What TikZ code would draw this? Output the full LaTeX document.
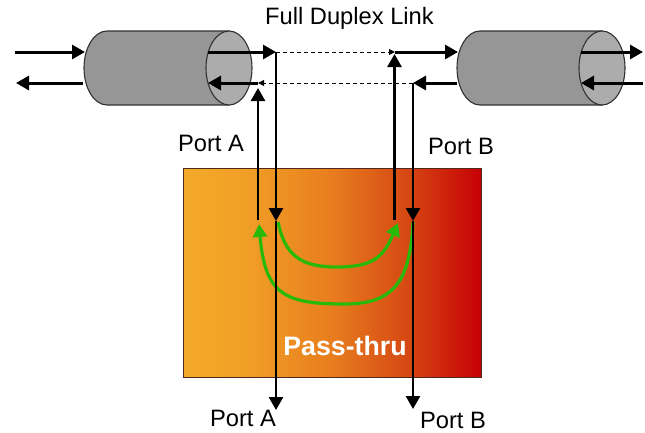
\documentclass[tikz,border=0pt]{standalone}
\usepackage{fontspec}
\setmainfont{Liberation Sans}
\usetikzlibrary{arrows.meta}
\definecolor{bodygray}{RGB}{150,150,150}
\definecolor{capgray}{RGB}{172,172,172}
\definecolor{edgegray}{RGB}{50,50,50}
\definecolor{flowgreen}{RGB}{40,185,10}
\definecolor{boxedge}{RGB}{80,40,30}
\definecolor{gradA}{RGB}{243,170,40}
\definecolor{gradB}{RGB}{241,160,38}
\definecolor{gradC}{RGB}{232,125,30}
\definecolor{gradD}{RGB}{215,75,20}
\definecolor{gradE}{RGB}{198,0,5}
\pgfdeclarehorizontalshading{passgrad}{100bp}{
  color(0bp)=(gradA);
  color(25bp)=(gradA);
  color(35bp)=(gradB);
  color(50bp)=(gradC);
  color(62bp)=(gradD);
  color(75bp)=(gradE);
  color(100bp)=(gradE)}
\tikzset{
  x=1pt,y=-1pt,
  cylbody/.style={draw=edgegray,line width=1.1pt,fill=bodygray},
  cylcap/.style={draw=edgegray,line width=1.1pt,fill=capgray},
  flow/.style={line width=3pt,black,-{Triangle[width=14pt,length=13pt]}},
  riser/.style={line width=2.6pt,black,-{Triangle[width=14pt,length=13pt]}},
  link/.style={line width=1pt,black,dash pattern=on 4pt off 3pt,-{Triangle[width=6pt,length=6pt]}},
  turn/.style={line width=3.2pt,flowgreen,-{Triangle[width=14pt,length=13pt]}},
  lab/.style={font=\fontsize{23.7}{26}\selectfont,text=black,inner sep=0pt,anchor=center},
  passlab/.style={font=\fontsize{26.7}{30}\selectfont\bfseries,text=white,inner sep=0pt,anchor=center}
}
\begin{document}
\begin{tikzpicture}
\useasboundingbox (0,0) rectangle (645,432);
% pass-thru box
\path[shading=passgrad,draw=boxedge,line width=1pt] (183,168) rectangle (481,377);
% cylinders
\foreach \xl/\xc in {107/229,480/602}{
  \path[cylbody] (\xl,31) -- (\xc,31) -- (\xc,105) -- (\xl,105) arc[start angle=270,end angle=90,x radius=23pt,y radius=37pt] -- cycle;
  \path[cylcap] (\xc,68) ellipse[x radius=23pt,y radius=37pt];
}
% named points
\coordinate (inAl) at (15,52);   \coordinate (cylAl1) at (85,52);
\coordinate (cylAl2) at (83,83); \coordinate (outAl) at (16,83);
\coordinate (capA1) at (208,52); \coordinate (jA1) at (276,52);
\coordinate (jA2) at (258,83);   \coordinate (capA2) at (208,83);
\coordinate (jB1) at (395,52);   \coordinate (cylB1) at (458,52);
\coordinate (jB2) at (413,83);   \coordinate (cylB2) at (457,83);
\coordinate (capB1) at (581,52); \coordinate (outB) at (643,52);
\coordinate (inB) at (643,83);   \coordinate (capB2) at (581,83);
\coordinate (riseA) at (258,220); \coordinate (topA) at (258,88);
\coordinate (riseB) at (394.5,220); \coordinate (topB) at (394.5,54);
\coordinate (dropA) at (276,221); \coordinate (endA) at (276,410);
\coordinate (dropB) at (413,221); \coordinate (endB) at (413,409);
\coordinate (gA) at (278,222);  \coordinate (gAtip) at (398,223);
\coordinate (gB) at (413,222);  \coordinate (gBtip) at (259,224);
% dashed link
\draw[link] (jA1) -- (jB1);
\draw[link] (jB2) -- (jA2);
% green turnarounds
\draw[turn] (gA) .. controls (285,255) and (300,267) .. (337,267) .. controls (372,267) and (383,258) .. (gAtip);
\draw[turn] (gB) .. controls (410,280) and (395,304) .. (345,304) .. controls (285,304) and (265,295) .. (gBtip);
% horizontal arrows
\draw[flow] (inAl) -- (cylAl1);
\draw[flow] (cylAl2) -- (outAl);
\draw[flow] (capA1) -- (jA1);
\draw[flow] (jA2) -- (capA2);
\draw[flow] (jB1) -- (cylB1);
\draw[flow] (cylB2) -- (jB2);
\draw[flow] (capB1) -- (outB);
\draw[flow] (inB) -- (capB2);
% vertical arrows
\draw[riser] (riseA) -- (topA);
\draw[riser] (riseB) -- (topB);
\draw[riser] (jA1) -- (dropA);
\draw[riser] (jB2) -- (dropB);
\draw[riser] (dropA) -- (endA);
\draw[riser] (dropB) -- (endB);
% labels
\node[lab] (title) at (349.5,18) {Full Duplex Link};
\node[lab] (portAu) at (211,143) {Port A};
\node[lab] (portBu) at (461,146) {Port B};
\node[lab] (portAl) at (243,418) {Port A};
\node[lab] (portBl) at (453,420) {Port B};
\node[passlab] (pass) at (345,346) {Pass-thru};
\end{tikzpicture}
\end{document}
